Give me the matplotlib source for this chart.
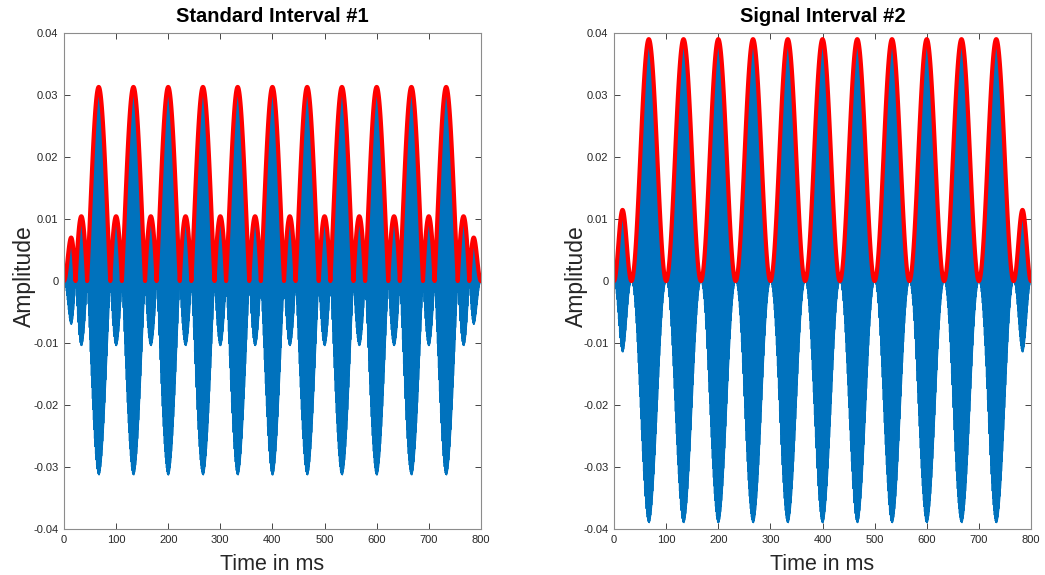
import numpy as np
import matplotlib
matplotlib.use("Agg")
import matplotlib.pyplot as plt

plt.rcParams["font.family"] = ["Liberation Sans", "DejaVu Sans"]
plt.rcParams["axes.unicode_minus"] = False
plt.rcParams["path.simplify"] = False
plt.rcParams["agg.path.chunksize"] = 20000

# Stimulus parameters
fs = 44100                      # sample rate (Hz)
duration_ms = 800               # interval length (ms)
ramp_ms = 30                    # raised-cosine onset/offset ramp (ms)
carrier_hz = 1000               # centre frequency (Hz)
mod_hz = 15                     # component spacing / modulation rate (Hz)

# Standard interval: three equal-amplitude components
standard_offsets = [-1, 0, 1]
standard_amps = [0.01043, 0.01043, 0.01043]

# Signal interval: fully modulated AM tone (sidebands at half the carrier level)
signal_offsets = [-1, 0, 1]
signal_amps = [0.00975, 0.0195, 0.00975]

titles = ["Standard Interval #1", "Signal Interval #2"]
xticks = [0, 100, 200, 300, 400, 500, 600, 700, 800]
yticks = [-0.04, -0.03, -0.02, -0.01, 0, 0.01, 0.02, 0.03, 0.04]
ytick_labels = ["-0.04", "-0.03", "-0.02", "-0.01", "0", "0.01", "0.02", "0.03", "0.04"]

t = np.arange(int(fs * duration_ms / 1000) + 1) / fs
t_ms = t * 1000

# Onset/offset ramp
n_ramp = int(fs * ramp_ms / 1000)
ramp = np.ones_like(t)
rise = np.sin(0.5 * np.pi * np.arange(n_ramp) / n_ramp) ** 2
ramp[:n_ramp] = rise
ramp[-n_ramp:] = rise[::-1]


def synthesize(offsets, amps):
    phasor = np.zeros_like(t, dtype=complex)
    for k, a in zip(offsets, amps):
        phasor += a * np.exp(2j * np.pi * (carrier_hz + k * mod_hz) * t)
    wave = np.real(phasor) * ramp
    env = np.abs(phasor) * ramp
    return wave, env


fig = plt.figure(figsize=(10.45, 5.75), dpi=100)
positions = [[0.0612, 0.080, 0.399, 0.8626], [0.5876, 0.080, 0.399, 0.8626]]
ylabel_x = [-0.068, -0.062]
stimuli = [(standard_offsets, standard_amps), (signal_offsets, signal_amps)]

blue = "#0072BD"
axis_color = "#262626"
for pos, lx, title, (offs, amps) in zip(positions, ylabel_x, titles, stimuli):
    ax = fig.add_axes(pos)
    wave, env = synthesize(offs, amps)
    # dense carrier: shade the span the waveform sweeps, then the trace itself
    ax.fill_between(t_ms, -env, env, color=blue, linewidth=0)
    ax.plot(t_ms, wave, color=blue, linewidth=0.8)
    ax.plot(t_ms, env, color="#FF0000", linewidth=3.0, solid_capstyle="round")
    ax.set_xlim(0, 800)
    ax.set_ylim(-0.04, 0.04)
    ax.set_xticks(xticks)
    ax.set_yticks(yticks)
    ax.set_yticklabels(ytick_labels)
    ax.tick_params(direction="in", length=4, width=0.6, labelsize=8,
                   colors=axis_color, top=True, right=True, pad=4)
    for sp in ax.spines.values():
        sp.set_color("#8c8c8c")
        sp.set_linewidth(0.8)
    ax.set_title(title, fontsize=14.5, fontweight="bold", color="#000000", pad=8)
    ax.set_xlabel("Time in ms", fontsize=15.5, color=axis_color, labelpad=7)
    ax.set_ylabel("Amplitude", fontsize=16.5, color=axis_color)
    ax.yaxis.set_label_coords(lx, 0.51)

fig.savefig("out.png", dpi=100)
